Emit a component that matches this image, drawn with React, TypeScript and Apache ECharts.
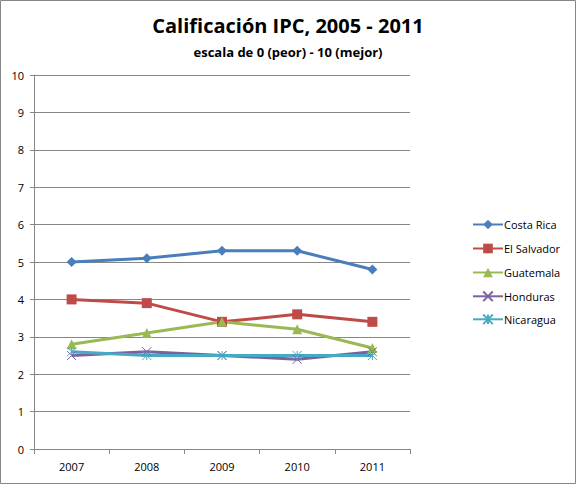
import React, { useEffect, useRef } from "react";
import * as echarts from "echarts";

const years = ["2007", "2008", "2009", "2010", "2011"];
const countries = ["Costa Rica", "El Salvador", "Guatemala", "Honduras", "Nicaragua"];
const costaRica = [5.0, 5.1, 5.3, 5.3, 4.8];
const elSalvador = [4.0, 3.9, 3.4, 3.6, 3.4];
const guatemala = [2.8, 3.1, 3.4, 3.2, 2.7];
const honduras = [2.5, 2.6, 2.5, 2.4, 2.6];
const nicaragua = [2.6, 2.5, 2.5, 2.5, 2.5];

const titleText = "Calificación IPC, 2005 - 2011";
const subtitleText = "escala de 0 (peor) - 10 (mejor)";

const xSym = "path://M0,0L10,10M10,0L0,10";
const starSym = "path://M0,0L10,10M10,0L0,10M5,0L5,10";

export default function App() {
  const ref = useRef<HTMLDivElement>(null);
  useEffect(() => {
    const chart = echarts.init(ref.current!, null, { renderer: "svg" });
    const font = "Open Sans, Liberation Sans, sans-serif";
    const legendTops = [219, 243, 267, 289, 312];
    const mk = (name: string, data: number[], color: string, symbol: string, size: number, strokeOnly = false) => ({
      name,
      type: "line",
      data,
      symbol,
      symbolSize: size,
      lineStyle: { color, width: 3 },
      itemStyle: strokeOnly
        ? { color: "none", borderColor: color, borderWidth: 1 }
        : { color, borderColor: color, borderWidth: 0 },
      emphasis: { disabled: true },
    });
    chart.setOption({
      animation: false,
      backgroundColor: "#fff",
      title: [
        {
          text: titleText,
          left: "center",
          top: 10,
          textStyle: { fontFamily: font, fontSize: 20, fontWeight: "bold", color: "#000" },
        },
        {
          text: subtitleText,
          left: "center",
          top: 40,
          textStyle: { fontFamily: font, fontSize: 13, fontWeight: "bold", color: "#000" },
        },
      ],
      graphic: [
        {
          type: "rect",
          shape: { x: 0.5, y: 0.5, width: 575, height: 483 },
          style: { fill: "none", stroke: "#868686", lineWidth: 1 },
          silent: true,
        },
      ],
      legend: countries.map((c, i) => ({
        left: 472,
        top: legendTops[i],
        padding: 0,
        itemWidth: 30,
        itemHeight: 12,
        textStyle: { fontFamily: font, fontSize: 11, color: "#000", padding: [0, 0, 0, -4] },
        data: [c],
      })),
      grid: { left: 34, right: 166, top: 75, bottom: 35 },
      xAxis: {
        type: "category",
        data: years,
        boundaryGap: true,
        axisLine: { lineStyle: { color: "#868686" } },
        axisTick: { show: true, length: 5, lineStyle: { color: "#868686" } },
        axisLabel: { fontFamily: font, fontSize: 11, color: "#000", margin: 12 },
      },
      yAxis: {
        type: "value",
        min: 0,
        max: 10,
        interval: 1,
        axisLine: { show: true, lineStyle: { color: "#868686" } },
        axisTick: { show: true, length: 4, lineStyle: { color: "#868686" } },
        axisLabel: { fontFamily: font, fontSize: 11, color: "#000", margin: 10 },
        splitLine: { lineStyle: { color: "#868686" } },
      },
      series: [
        mk(countries[0], costaRica, "#4A7EBB", "diamond", 10),
        mk(countries[1], elSalvador, "#BE4B48", "rect", 10),
        mk(countries[2], guatemala, "#98B954", "triangle", 10),
        mk(countries[3], honduras, "#7D60A0", xSym, 9, true),
        mk(countries[4], nicaragua, "#46AAC5", starSym, 9, true),
      ],
    });
    return () => chart.dispose();
  }, []);
  return (
    <div
      ref={ref}
      style={{ position: "fixed", left: 0, top: 0, width: 576, height: 484 }}
    />
  );
}
